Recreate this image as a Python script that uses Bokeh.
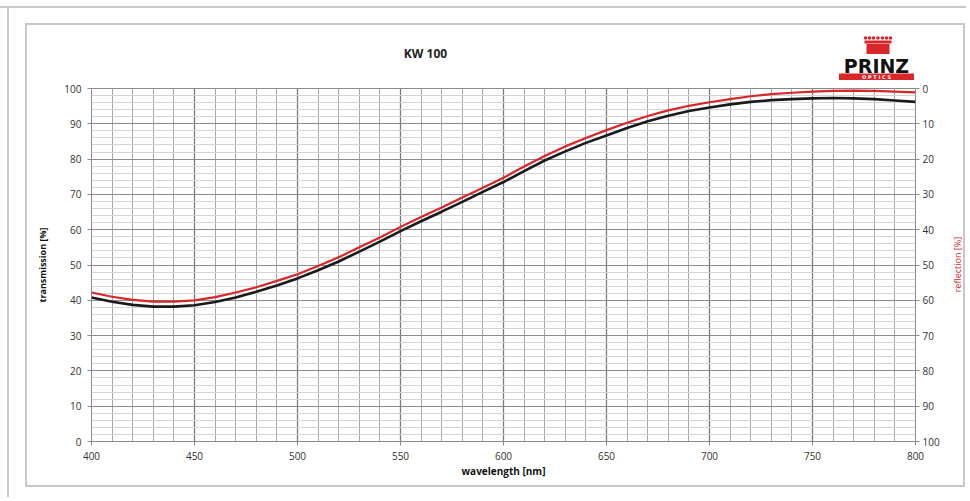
import math
from bokeh.plotting import figure
from bokeh.layouts import column, row
from bokeh.models import Range1d, LinearAxis, SingleIntervalTicker, FixedTicker
from bokeh.core.properties import value
from bokeh.embed import file_html
from bokeh.resources import INLINE

# ---- data ----
wavelength = [400, 410, 420, 430, 440, 450, 460, 470, 480, 490, 500, 510, 520, 530, 540,
              550, 560, 570, 580, 590, 600, 610, 620, 630, 640, 650, 660, 670, 680, 690,
              700, 710, 720, 730, 740, 750, 760, 770, 780, 790, 800]
transmission = [40.8, 39.6, 38.7, 38.2, 38.2, 38.6, 39.5, 40.8, 42.4, 44.2, 46.2, 48.5, 51.0, 53.8, 56.6,
                59.6, 62.4, 65.1, 67.9, 70.7, 73.5, 76.6, 79.6, 82.2, 84.6, 86.7, 88.8, 90.7, 92.3, 93.6,
                94.6, 95.5, 96.2, 96.7, 97.0, 97.2, 97.3, 97.2, 97.0, 96.6, 96.2]
reflection = [57.8, 59.0, 59.9, 60.4, 60.4, 60.0, 59.1, 57.8, 56.3, 54.5, 52.6, 50.3, 47.8, 45.0, 42.2,
              39.2, 36.4, 33.7, 30.9, 28.1, 25.3, 22.1, 19.1, 16.4, 14.0, 11.8, 9.7, 7.8, 6.2, 4.9,
              3.9, 3.0, 2.2, 1.6, 1.2, 0.9, 0.7, 0.6, 0.7, 0.9, 1.1]
x_ticks = [400, 450, 500, 550, 600, 650, 700, 750, 800]
y_ticks = [0, 10, 20, 30, 40, 50, 60, 70, 80, 90, 100]
y_minor = [v for v in range(0, 101, 2) if v % 10 != 0]
title_text = "KW 100"
x_label = "wavelength [nm]"
y_label = "transmission [%]"
y2_label = "reflection [%]"
logo_name = "PRINZ"
logo_sub = "O P T I C S"

FONT = "Open Sans"
RED = "#d8262a"
FRAME = "#c8c8c8"

W, H = 966, 497
HEAD_H = 80
STRIP_W = 21
MAIN_W = W - STRIP_W
MAIN_H = H - HEAD_H

# ---------- header (title + logo) ----------
head = figure(width=W, height=HEAD_H, output_backend="svg", toolbar_location=None,
              x_range=Range1d(0, W), y_range=Range1d(HEAD_H, 0),
              x_axis_type=None, y_axis_type=None,
              min_border=0, min_border_left=0, min_border_right=0,
              min_border_top=0, min_border_bottom=0)
head.grid.visible = False
head.outline_line_color = None
head.background_fill_color = None
head.border_fill_color = None

head.text(x=[425], y=[53], text=[title_text], text_align="center", text_baseline="middle",
          text_font=value(FONT), text_font_size="12px", text_font_style="bold",
          text_color="#222222")
# crown
head.rect(x=[877.5], y=[48.5], width=23, height=10, fill_color=RED, line_color=None)
head.rect(x=[877.5], y=[41.5], width=27, height=3, fill_color=RED, line_color=None)
head.scatter(x=[865, 869, 873, 877.5, 882, 886, 890], y=[37.5] * 7, size=3.6,
             fill_color=RED, line_color=None)
head.text(x=[876], y=[65.5], text=[logo_name], text_align="center", text_baseline="middle",
          text_font=value("DejaVu Sans"), text_font_size="19px", text_font_style="bold",
          text_color="#111111")
head.rect(x=[876], y=[76.5], width=75, height=7, fill_color=RED, line_color=None)
head.text(x=[876], y=[76.8], text=[logo_sub], text_align="center", text_baseline="middle",
          text_font=value("DejaVu Sans"), text_font_size="5px", text_font_style="bold",
          text_color="white")

# ---------- main chart ----------
p = figure(width=MAIN_W, height=MAIN_H, output_backend="svg", toolbar_location=None,
           x_range=Range1d(400, 800), y_range=Range1d(0, 100),
           min_border_left=91, min_border_right=30, min_border_top=8, min_border_bottom=56)
p.extra_y_ranges = {"refl": Range1d(100, 0)}
p.outline_line_color = "#8a8a8a"
p.background_fill_color = "white"
p.border_fill_color = None

p.xgrid.ticker = SingleIntervalTicker(interval=50, num_minor_ticks=5)
p.ygrid.ticker = FixedTicker(ticks=y_ticks, minor_ticks=y_minor)
p.xgrid.grid_line_color = "#7a7a7a"
p.xgrid.grid_line_width = 1.3
p.xgrid.minor_grid_line_color = "#a8a8a8"
p.xgrid.minor_grid_line_width = 1
p.ygrid.grid_line_color = "#8a8a8a"
p.ygrid.grid_line_width = 1
p.ygrid.minor_grid_line_color = "#d4d4d4"
p.ygrid.minor_grid_line_width = 1

for ax in [p.xaxis[0], p.yaxis[0]]:
    ax.axis_line_color = None
    ax.major_tick_line_color = "#888888"
    ax.major_tick_out = 4
    ax.major_tick_in = 0
    ax.minor_tick_line_color = None
    ax.major_label_text_font = FONT
    ax.major_label_text_font_size = "10px"
    ax.major_label_text_color = "#333333"
    ax.axis_label_text_font = FONT
    ax.axis_label_text_font_style = "bold"
    ax.axis_label_text_color = "#111111"

p.xaxis[0].ticker = FixedTicker(ticks=x_ticks)
p.yaxis[0].ticker = FixedTicker(ticks=y_ticks)
p.xaxis[0].axis_label = x_label
p.xaxis[0].axis_label_text_font_size = "10px"
p.xaxis[0].axis_label_standoff = 1
p.xaxis[0].major_label_standoff = 6
p.yaxis[0].axis_label = y_label
p.yaxis[0].axis_label_text_font_size = "9px"
p.yaxis[0].axis_label_standoff = 12
p.yaxis[0].major_label_standoff = 6

ax2 = LinearAxis(y_range_name="refl", ticker=FixedTicker(ticks=y_ticks))
ax2.axis_line_color = None
ax2.major_tick_line_color = "#888888"
ax2.major_tick_out = 4
ax2.major_tick_in = 0
ax2.minor_tick_line_color = None
ax2.major_label_text_font = FONT
ax2.major_label_text_font_size = "10px"
ax2.major_label_text_color = "#333333"
ax2.major_label_standoff = 3
p.add_layout(ax2, "right")

p.line(wavelength, transmission, line_color="#1a1a1a", line_width=2.6)
p.line(wavelength, reflection, y_range_name="refl", line_color=RED, line_width=2.2)

# ---------- right strip with the reflection axis title ----------
strip = figure(width=STRIP_W, height=MAIN_H, output_backend="svg", toolbar_location=None,
               x_range=Range1d(0, STRIP_W), y_range=Range1d(MAIN_H, 0),
               x_axis_type=None, y_axis_type=None,
               min_border=0, min_border_left=0, min_border_right=0,
               min_border_top=0, min_border_bottom=0)
strip.grid.visible = False
strip.outline_line_color = None
strip.background_fill_color = None
strip.border_fill_color = None
strip.text(x=[12], y=[208], text=[y2_label], angle=math.pi / 2,
           text_align="center", text_baseline="middle",
           text_font=value(FONT), text_font_size="9px", text_color=RED)

bg = ", ".join([
    f"linear-gradient({FRAME},{FRAME}) 0px 6px / 100% 2px no-repeat",
    f"linear-gradient({FRAME},{FRAME}) 7px 6px / 2px 100% no-repeat",
    f"linear-gradient({FRAME},{FRAME}) 25px 23px / 940px 2px no-repeat",
    f"linear-gradient({FRAME},{FRAME}) 25px 485px / 940px 2px no-repeat",
    f"linear-gradient({FRAME},{FRAME}) 25px 23px / 2px 464px no-repeat",
    f"linear-gradient({FRAME},{FRAME}) 963px 23px / 2px 464px no-repeat",
    "white",
])

layout = column(head, row(p, strip, spacing=0), spacing=0, styles={"background": bg})

open("out.html", "w").write(file_html(layout, INLINE))
